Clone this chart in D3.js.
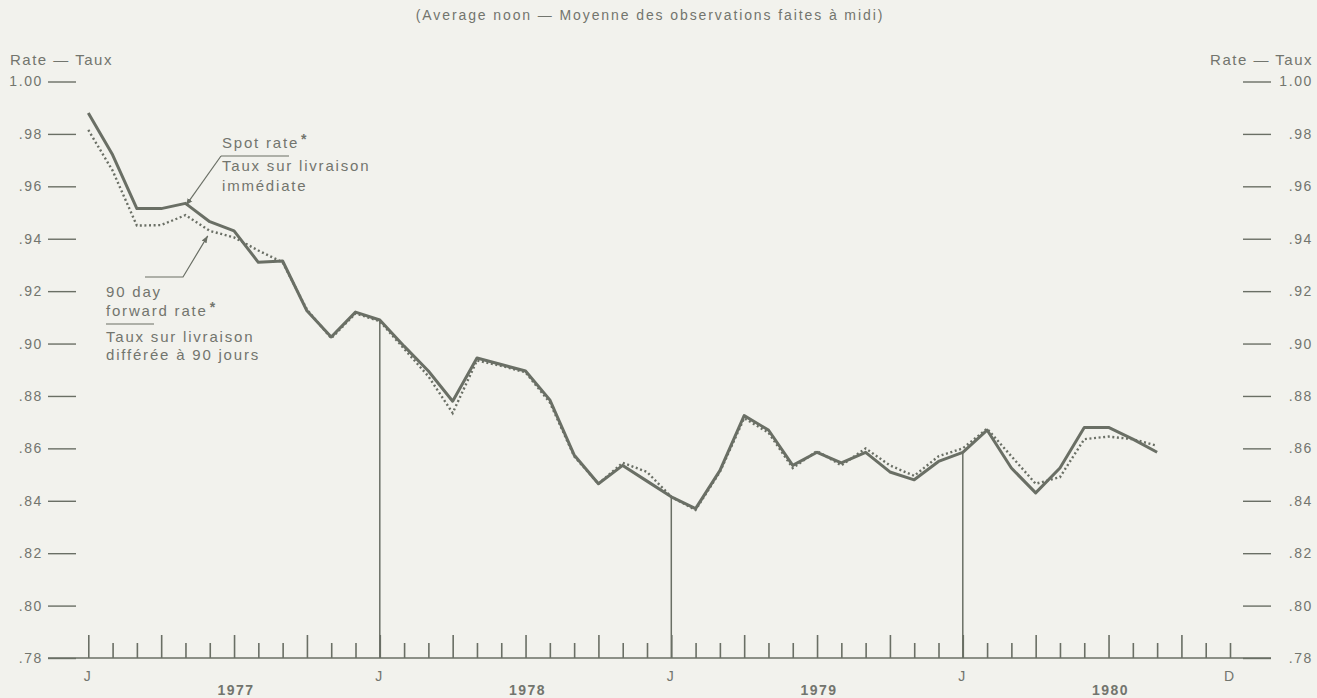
<!DOCTYPE html>
<html>
<head>
<meta charset="utf-8">
<script src="https://cdn.jsdelivr.net/npm/d3@7"></script>
<style>
  html, body { margin: 0; padding: 0; background: #f2f2ed; }
  svg { display: block; }
  text { font-family: "Liberation Sans", Arial, Helvetica, sans-serif; fill: #72756e; }
</style>
</head>
<body>
<svg id="chart" width="1317" height="698"></svg>
<script>
// ---- data ----
const months = [
  "1977-01","1977-02","1977-03","1977-04","1977-05","1977-06","1977-07","1977-08","1977-09","1977-10","1977-11","1977-12",
  "1978-01","1978-02","1978-03","1978-04","1978-05","1978-06","1978-07","1978-08","1978-09","1978-10","1978-11","1978-12",
  "1979-01","1979-02","1979-03","1979-04","1979-05","1979-06","1979-07","1979-08","1979-09","1979-10","1979-11","1979-12",
  "1980-01","1980-02","1980-03","1980-04","1980-05","1980-06","1980-07","1980-08","1980-09"
];
const spotRate = [
  0.988, 0.972, 0.9515, 0.9515, 0.9535, 0.9465, 0.943, 0.931, 0.9315, 0.9125, 0.9025, 0.912,
  0.909, 0.899, 0.8895, 0.878, 0.8945, 0.892, 0.8895, 0.8785, 0.8575, 0.8465, 0.8535, 0.8475,
  0.8415, 0.837, 0.8515, 0.8725, 0.867, 0.8535, 0.8585, 0.8545, 0.8585, 0.851, 0.848, 0.855,
  0.8585, 0.867, 0.8525, 0.843, 0.8525, 0.868, 0.868, 0.8635, 0.8585
];
const forwardRate = [
  0.9815, 0.966, 0.945, 0.9452, 0.949, 0.943, 0.9405, 0.9355, 0.931, 0.913, 0.902, 0.9115,
  0.9085, 0.898, 0.8875, 0.8735, 0.8935, 0.8915, 0.889, 0.8775, 0.857, 0.8465, 0.8545, 0.851,
  0.8415, 0.8365, 0.851, 0.8715, 0.866, 0.8525, 0.859, 0.8535, 0.86, 0.8535, 0.8495, 0.857,
  0.86, 0.8675, 0.857, 0.8465, 0.849, 0.8635, 0.8645, 0.8635, 0.861
];
const yTicks = [1.00, 0.98, 0.96, 0.94, 0.92, 0.90, 0.88, 0.86, 0.84, 0.82, 0.80, 0.78];
const axisMonths = [
  "1977-01","1977-02","1977-03","1977-04","1977-05","1977-06","1977-07","1977-08","1977-09","1977-10","1977-11","1977-12",
  "1978-01","1978-02","1978-03","1978-04","1978-05","1978-06","1978-07","1978-08","1978-09","1978-10","1978-11","1978-12",
  "1979-01","1979-02","1979-03","1979-04","1979-05","1979-06","1979-07","1979-08","1979-09","1979-10","1979-11","1979-12",
  "1980-01","1980-02","1980-03","1980-04","1980-05","1980-06","1980-07","1980-08","1980-09","1980-10","1980-11","1980-12"
];
const monthLabels = [["1977-01","J"],["1978-01","J"],["1979-01","J"],["1980-01","J"],["1980-12","D"]];
const yearLabels = [["1977-07","1977"],["1978-07","1978"],["1979-07","1979"],["1980-07","1980"]];
const yearDividers = ["1978-01","1979-01","1980-01"];
const title = "(Average noon \u2014 Moyenne des observations faites \u00e0 midi)";
const axisTitle = "Rate \u2014 Taux";

// ---- helpers ----
const mIdx = s => { const [y, m] = s.split("-").map(Number); return (y - 1977) * 12 + (m - 1); };
const INK = "#6a6f65";
const TXT = "#72756e";

const svg = d3.select("#chart");
const x = d3.scaleLinear().domain([0, 47]).range([88.3, 1230]);
const y = d3.scaleLinear().domain([0.78, 1.00]).range([658, 81.5]);

// title
svg.append("text").attr("x", 650).attr("y", 20).attr("text-anchor", "middle")
  .style("font-size", "14px").style("letter-spacing", "1.9px").text(title);

// axis titles
svg.append("text").attr("x", 10).attr("y", 65).style("font-size", "15px")
  .style("letter-spacing", "1.5px").text(axisTitle);
svg.append("text").attr("x", 1313).attr("y", 65).attr("text-anchor", "end").style("font-size", "15px")
  .style("letter-spacing", "1.5px").text(axisTitle);

const fmt = v => v >= 0.995 ? "1.00" : d3.format(".2f")(v).slice(1);

// left axis
const gl = svg.append("g").attr("transform", "translate(76,0)")
  .call(d3.axisLeft(y).tickValues(yTicks).tickSize(28).tickPadding(5).tickFormat(fmt));
// right axis
const gr = svg.append("g").attr("transform", "translate(1243,0)")
  .call(d3.axisRight(y).tickValues(yTicks).tickSize(28).tickPadding(6).tickFormat(fmt));
[gl, gr].forEach(g => {
  g.select(".domain").remove();
  g.selectAll(".tick line").attr("stroke", INK).attr("stroke-width", 1.4);
  g.selectAll(".tick text").attr("fill", TXT).style("font-size", "14px")
    .style("font-family", "'Liberation Sans', Arial, sans-serif").style("letter-spacing", "1.6px");
});
gr.selectAll(".tick text").attr("text-anchor", "end").attr("x", 70);

// baseline
svg.append("line").attr("x1", 48).attr("x2", 1271).attr("y1", y(0.78)).attr("y2", y(0.78))
  .attr("stroke", INK).attr("stroke-width", 1.4);

// month ticks
const gb = svg.append("g").attr("transform", `translate(0,${y(0.78)})`)
  .call(d3.axisTop(x).tickValues(axisMonths.map(mIdx)).tickSize(15).tickFormat(""));
gb.select(".domain").remove();
gb.selectAll(".tick line").attr("stroke", INK).attr("stroke-width", 1.6)
  .attr("y2", d => (d % 3 === 0) ? -23 : -15);

// year divider verticals up to the spot line
svg.append("g").selectAll("line").data(yearDividers).join("line")
  .attr("x1", d => x(mIdx(d))).attr("x2", d => x(mIdx(d)))
  .attr("y1", y(0.78)).attr("y2", d => y(spotRate[months.indexOf(d)]))
  .attr("stroke", INK).attr("stroke-width", 1.5);

// month letters
svg.append("g").selectAll("text").data(monthLabels).join("text")
  .attr("x", d => x(mIdx(d[0])) - 1).attr("y", 681).attr("text-anchor", "middle")
  .style("font-size", "14px").text(d => d[1]);
// year labels
svg.append("g").selectAll("text").data(yearLabels).join("text")
  .attr("x", d => x(mIdx(d[0])) + 2).attr("y", 695).attr("text-anchor", "middle")
  .style("font-size", "14px").style("font-weight", "bold").style("letter-spacing", "1.5px")
  .text(d => d[1]);

// lines
const line = d3.line().x((d, i) => x(mIdx(months[i]))).y(d => y(d));
svg.append("path").datum(forwardRate).attr("d", line).attr("fill", "none")
  .attr("stroke", INK).attr("stroke-width", 2.4).attr("stroke-dasharray", "2 2.6");
svg.append("path").datum(spotRate).attr("d", line).attr("fill", "none")
  .attr("stroke", INK).attr("stroke-width", 3).attr("stroke-linejoin", "round");

// arrow marker
const defs = svg.append("defs");
defs.append("marker").attr("id", "arr").attr("viewBox", "0 0 10 10").attr("refX", 10).attr("refY", 5)
  .attr("markerWidth", 7).attr("markerHeight", 7).attr("markerUnits", "userSpaceOnUse").attr("orient", "auto")
  .append("path").attr("d", "M0,1 L10,5 L0,9 Z").attr("fill", INK);

// annotations
const ann = svg.append("g").style("font-size", "15px").style("letter-spacing", "1.8px");
// spot rate
const sTip = [x(mIdx("1977-05")) + 0.5, y(spotRate[4]) + 2];
const t1 = ann.append("text").attr("x", 222).attr("y", 148);
t1.append("tspan").text("Spot rate");
t1.append("tspan").attr("dx", 2).attr("dy", -4).style("font-size", "14px").style("font-weight", "bold").text("*");
ann.append("line").attr("x1", 221).attr("x2", 289).attr("y1", 156).attr("y2", 156).attr("stroke", INK).attr("stroke-width", 1.2);
ann.append("path").attr("d", `M221,156 L${sTip[0]},${sTip[1]}`).attr("stroke", INK).attr("stroke-width", 1.2)
  .attr("fill", "none").attr("marker-end", "url(#arr)");
ann.append("text").attr("x", 222).attr("y", 171).text("Taux sur livraison");
ann.append("text").attr("x", 222).attr("y", 191).text("imm\u00e9diate");
// forward rate
const fTip = [x(mIdx("1977-06")) - 2, y(forwardRate[5]) + 5];
ann.append("path").attr("d", `M145,277 L183,277 L${fTip[0]},${fTip[1]}`).attr("stroke", INK).attr("stroke-width", 1.2)
  .attr("fill", "none").attr("marker-end", "url(#arr)");
ann.append("text").attr("x", 106).attr("y", 297).text("90 day");
const t2 = ann.append("text").attr("x", 106).attr("y", 316);
t2.append("tspan").text("forward rate");
t2.append("tspan").attr("dx", 2).attr("dy", -4).style("font-size", "14px").style("font-weight", "bold").text("*");
ann.append("line").attr("x1", 106).attr("x2", 154).attr("y1", 324).attr("y2", 324).attr("stroke", INK).attr("stroke-width", 1.2);
ann.append("text").attr("x", 106).attr("y", 342).text("Taux sur livraison");
ann.append("text").attr("x", 106).attr("y", 360).text("diff\u00e9r\u00e9e \u00e0 90 jours");
</script>
</body>
</html>
